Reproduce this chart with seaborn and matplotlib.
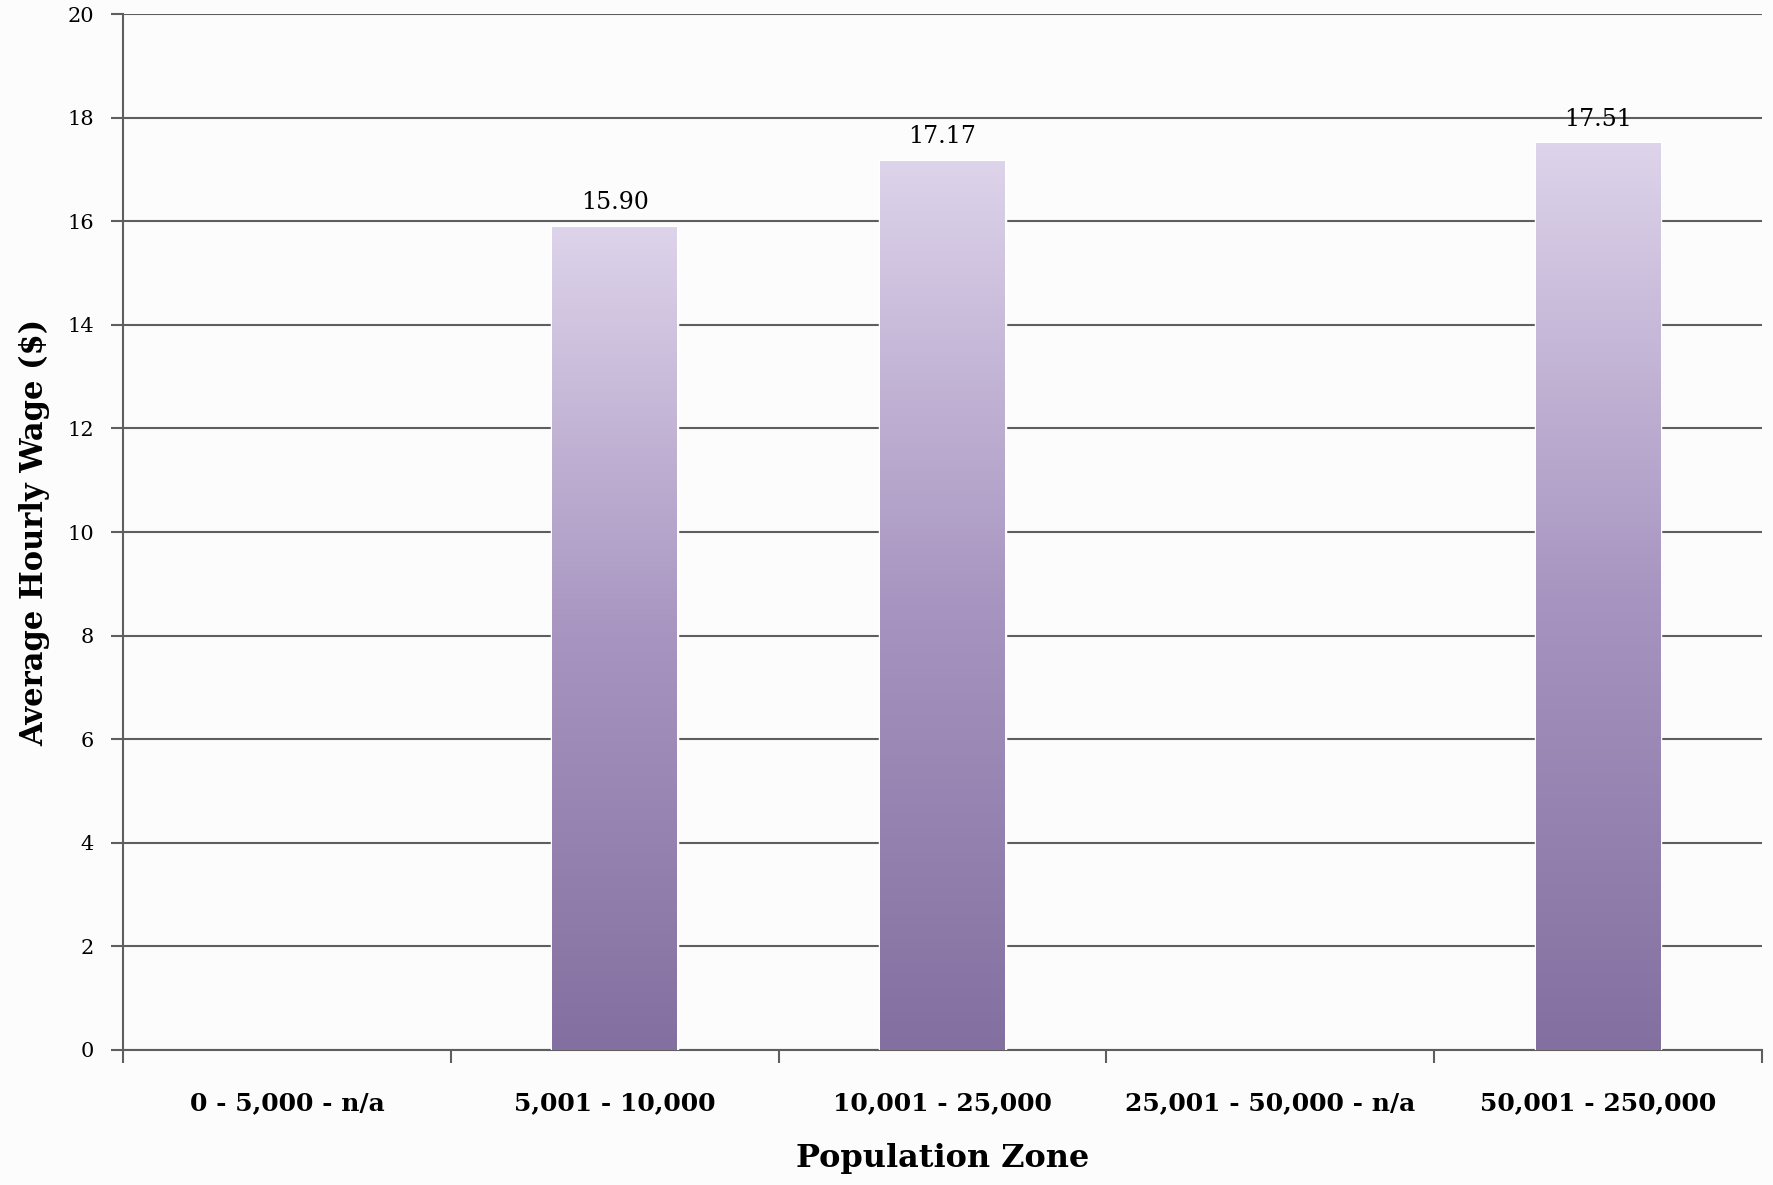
import numpy as np
import pandas as pd
import matplotlib
matplotlib.use("Agg")
import matplotlib.pyplot as plt
import seaborn as sns
from matplotlib.colors import LinearSegmentedColormap

# Data
zones = ["0 - 5,000 - n/a", "5,001 - 10,000", "10,001 - 25,000",
         "25,001 - 50,000 - n/a", "50,001 - 250,000"]
zones_with_data = ["5,001 - 10,000", "10,001 - 25,000", "50,001 - 250,000"]
wages = [15.90, 17.17, 17.51]

df = pd.DataFrame({"zone": zones_with_data, "wage": wages})

sns.set_theme(style="white")
plt.rcParams['font.family'] = ['DejaVu Serif']
plt.rcParams['text.color'] = 'black'
plt.rcParams['axes.labelcolor'] = 'black'
plt.rcParams['xtick.labelcolor'] = 'black'
plt.rcParams['ytick.labelcolor'] = 'black'

fig, ax = plt.subplots(figsize=(17.73, 11.85), dpi=100, facecolor="#fcfcfc")
ax.set_facecolor("#fcfcfc")
fig.subplots_adjust(left=0.0694, right=0.9938, top=0.988, bottom=0.114)

sns.barplot(data=df, x="zone", y="wage", order=zones, ax=ax,
            width=0.38, color="#a996c2", edgecolor="white", linewidth=2.5,
            errorbar=None, zorder=3)

# gradient fill clipped to each bar
cmap = LinearSegmentedColormap.from_list("lav", ["#8470a0", "#a794c0", "#ddd3ea"])
grad = np.linspace(0, 1, 256).reshape(-1, 1)
for p in ax.patches:
    x0, y0 = p.get_x(), p.get_y()
    w, h = p.get_width(), p.get_height()
    if np.isnan(h) or h == 0:
        continue
    im = ax.imshow(grad, cmap=cmap, aspect="auto", origin="lower",
                   extent=[x0, x0 + w, y0, y0 + h], zorder=3.5)
    im.set_clip_path(p)

ax.bar_label(ax.containers[0], fmt="%.2f", padding=9, fontsize=17,
             color="black", zorder=5)

ax.set_xlim(-0.5, 4.5)
ax.set_ylim(0, 20)
ax.set_yticks(np.arange(0, 21, 2))
ax.yaxis.grid(True, color="#5e5e5e", linewidth=1.5, zorder=1)
ax.set_axisbelow(True)

# category labels at centers, tick marks at boundaries
ax.set_xticks(np.arange(-0.5, 5, 1))
ax.set_xticklabels([""] * 6)
ax.set_xticks(np.arange(5), minor=True)
ax.set_xticklabels(zones, minor=True, fontsize=18, fontweight="bold")
ax.tick_params(axis="x", which="minor", length=0, pad=30)
ax.tick_params(axis="x", which="major", direction="out", length=9, width=1.5,
               color="#5e5e5e", bottom=True)
ax.tick_params(axis="y", direction="out", length=9, width=1.5, color="#5e5e5e",
               left=True, labelsize=15, pad=12)

for side in ["top", "right"]:
    ax.spines[side].set_visible(False)
for side in ["left", "bottom"]:
    ax.spines[side].set_color("#5e5e5e")
    ax.spines[side].set_linewidth(1.5)

ax.set_xlabel("Population Zone", fontsize=23, fontweight="bold", labelpad=20)
ax.set_ylabel("Average Hourly Wage ($)", fontsize=22, fontweight="bold", labelpad=12)

fig.savefig("out.png", dpi=100, facecolor=fig.get_facecolor())
